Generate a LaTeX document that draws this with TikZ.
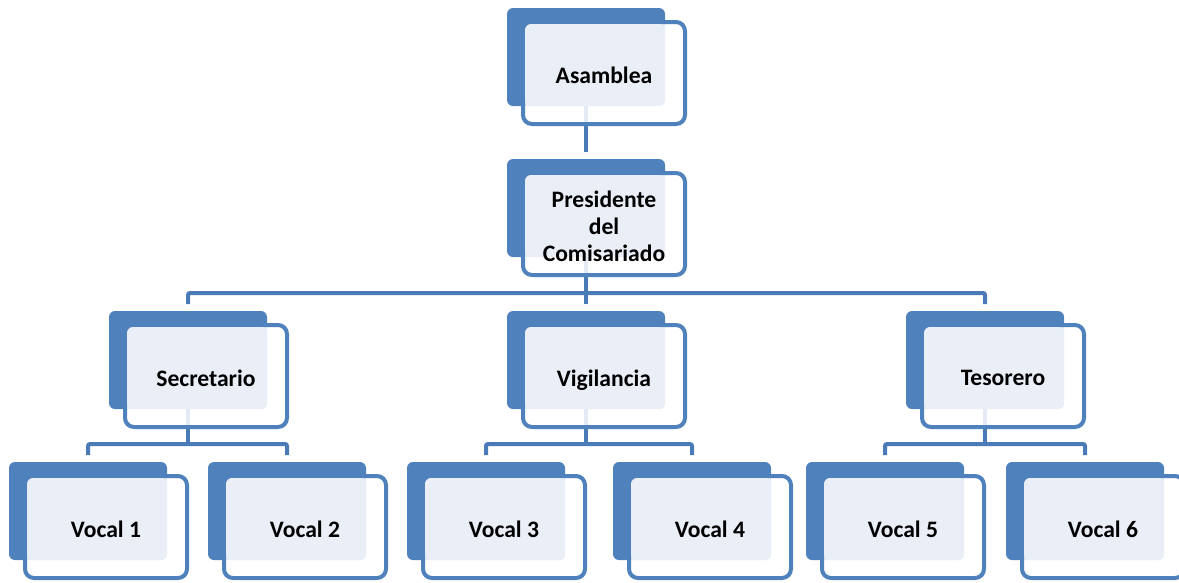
\documentclass[tikz,border=0pt]{standalone}
\usepackage{fontspec}
\setmainfont{Carlito}
\definecolor{accent}{HTML}{4F81BD}
\definecolor{conncol}{HTML}{4A7BB7}
\definecolor{lightfill}{HTML}{EAEFF7}
\pgfdeclarelayer{bg}
\pgfsetlayers{bg,main}
\tikzset{
  backbox/.style={fill=accent, draw=none, rounded corners=6pt, minimum width=158pt, minimum height=98pt, inner sep=0pt, outer sep=0pt},
  frontbox/.style={fill=white, fill opacity=0.85, draw=accent, draw opacity=1, line width=4pt, rounded corners=9pt, minimum width=162pt, minimum height=102pt, inner sep=0pt, outer sep=0pt},
  lightbox/.style={fill=lightfill, draw=none, rounded corners=6pt, minimum width=140pt, minimum height=82pt, inner sep=0pt, outer sep=0pt},
  boxtext/.style={font=\bfseries\fontsize{23.6}{27}\selectfont, align=center, text=black, inner sep=0pt},
  conn/.style={draw=conncol, line width=4pt, rounded corners=2pt}
}
\newcommand\orgbox[4]{%
  \node[backbox] (#1-back) at (#2+79,#3+49) {};
  \node[frontbox] (#1-front) at (#2+97,#3+65) {};
  \node[lightbox] (#1-light) at (#2+88,#3+57) {};
  \node[boxtext] (#1) at (#2+97,#3+69) {\vphantom{Ag}#4\vphantom{Ag}};
  \coordinate (#1-top) at ([yshift=7pt]#1-back.north);
}
\begin{document}
\begin{tikzpicture}[x=1pt,y=-1pt]
\useasboundingbox (0,0) rectangle (1179,582);
\orgbox{asam}{507}{8}{Asamblea}
\orgbox{pres}{507}{159}{Presidente\\del\\Comisariado}
\orgbox{sec}{109}{311}{Secretario}
\orgbox{vig}{507}{311}{Vigilancia}
\orgbox{tes}{906}{311}{Tesorero}
\orgbox{v1}{9}{462}{Vocal 1}
\orgbox{v2}{208}{462}{Vocal 2}
\orgbox{v3}{407}{462}{Vocal 3}
\orgbox{v4}{613}{462}{Vocal 4}
\orgbox{v5}{806}{462}{Vocal 5}
\orgbox{v6}{1006}{462}{Vocal 6}
\coordinate (busA) at (0,293);
\coordinate (busB) at (0,444);
\begin{pgfonlayer}{bg}
\draw[conn] (asam-back.south) -- (pres-top);
\draw[conn] (pres-back.south) -- (vig-top);
\draw[conn] (sec-top) |- (busA -| tes-top) -- (tes-top);
\draw[conn] (sec-back.south) -- (sec-back.south |- busB);
\draw[conn] (v1-top) |- (busB -| v2-top) -- (v2-top);
\draw[conn] (vig-back.south) -- (vig-back.south |- busB);
\draw[conn] (v3-top) |- (busB -| v4-top) -- (v4-top);
\draw[conn] (tes-back.south) -- (tes-back.south |- busB);
\draw[conn] (v5-top) |- (busB -| v6-top) -- (v6-top);
\end{pgfonlayer}
\end{tikzpicture}
\end{document}
